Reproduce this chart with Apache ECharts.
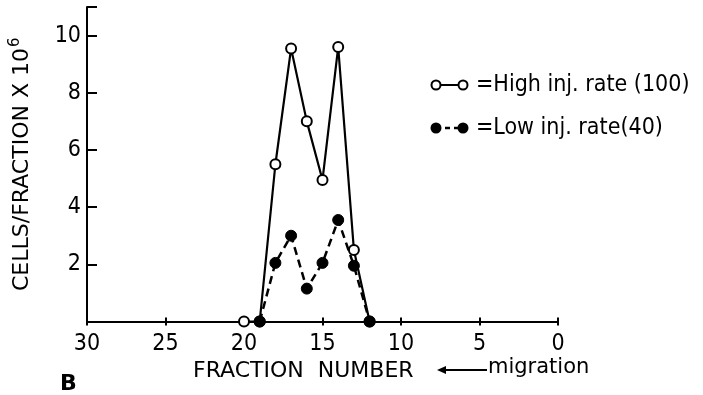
<!DOCTYPE html>
<html><head><meta charset="utf-8">
<script src="https://cdn.jsdelivr.net/npm/echarts@6/dist/echarts.min.js"></script>
<style>html,body{margin:0;padding:0;background:#fff}#c{width:703px;height:395px}</style>
</head><body><div id="c"></div>
<script>
var fractions = [20, 19, 18, 17, 16, 15, 14, 13, 12];
var highRate = [0, 0, 5.5, 9.55, 7.0, 4.95, 9.6, 2.5, 0];
var lowRate = [null, 0, 2.05, 3.0, 1.15, 2.05, 3.55, 1.95, 0];
var xTicks = [30, 25, 20, 15, 10, 5, 0];
var yTicks = [2, 4, 6, 8, 10];
var seriesNames = ['High inj. rate (100)', 'Low inj. rate(40)'];

var FONT = '"DejaVu Sans Condensed", sans-serif';
var FONTW = '"DejaVu Sans", sans-serif';
function pairs(vals) {
  var out = [];
  for (var i = 0; i < fractions.length; i++) if (vals[i] !== null) out.push([fractions[i], vals[i]]);
  return out;
}
var chart = echarts.init(document.getElementById('c'), null, {renderer: 'canvas'});
var baseX = {
  type: 'value', min: 0, max: 30, interval: 5, inverse: true, position: 'bottom',
  splitLine: {show: false}
};
chart.setOption({
  animation: false,
  backgroundColor: '#fff',
  grid: {left: 82, right: 145, top: 7, bottom: 73.5, containLabel: false},
  xAxis: [
    Object.assign({}, baseX, {
      axisLine: {onZero: false, lineStyle: {color: '#000', width: 2}},
      axisTick: {show: true, length: 4, lineStyle: {color: '#000', width: 2}},
      axisLabel: {color: '#000', fontSize: 23, fontFamily: FONT, margin: 11,
        formatter: function (v) { return xTicks.indexOf(v) >= 0 ? String(v) : ''; }}
    }),
    Object.assign({}, baseX, {
      axisLine: {show: false, onZero: false},
      axisTick: {show: true, inside: true, length: 4, lineStyle: {color: '#000', width: 2}},
      axisLabel: {show: false}
    })
  ],
  yAxis: {
    type: 'value', min: 0, max: 11, interval: 2, position: 'left',
    axisLine: {show: true, onZero: false, lineStyle: {color: '#000', width: 2}},
    axisTick: {show: true, inside: true, length: 10, lineStyle: {color: '#000', width: 2}},
    splitLine: {show: false},
    axisLabel: {color: '#000', fontSize: 23, fontFamily: FONT, margin: 6,
      formatter: function (v) { return yTicks.indexOf(v) >= 0 ? String(v) : ''; }},
    name: '{a|CELLS/FRACTION X 10}{s|6}',
    nameLocation: 'middle', nameRotate: 90, nameGap: 50,
    nameTextStyle: {
      rich: {
        a: {color: '#000', fontSize: 22, fontFamily: FONTW},
        s: {color: '#000', fontSize: 15, fontFamily: FONTW, verticalAlign: 'bottom', padding: [0, 0, 14, 1]}
      }
    }
  },
  series: [
    {
      name: seriesNames[0], type: 'line', data: pairs(highRate), xAxisIndex: 0,
      symbol: 'circle', symbolSize: 10, z: 3,
      lineStyle: {color: '#000', width: 2.2},
      itemStyle: {color: '#fff', borderColor: '#000', borderWidth: 2}
    },
    {
      name: seriesNames[1], type: 'line', data: pairs(lowRate), xAxisIndex: 0,
      symbol: 'circle', symbolSize: 11, z: 4,
      lineStyle: {color: '#000', width: 2.5, type: [8, 5]},
      itemStyle: {color: '#000', borderColor: '#000', borderWidth: 1}
    }
  ],
  graphic: [
    {type: 'line', shape: {x1: 436, y1: 85, x2: 463, y2: 85}, style: {stroke: '#000', lineWidth: 2}},
    {type: 'circle', shape: {cx: 436, cy: 85, r: 4.5}, style: {fill: '#fff', stroke: '#000', lineWidth: 2}},
    {type: 'circle', shape: {cx: 463, cy: 85, r: 4.5}, style: {fill: '#fff', stroke: '#000', lineWidth: 2}},
    {type: 'text', x: 476, y: 85, style: {text: '=' + seriesNames[0], font: '23px ' + FONT, fill: '#000', textVerticalAlign: 'middle'}},
    {type: 'line', shape: {x1: 436, y1: 128, x2: 463, y2: 128}, style: {stroke: '#000', lineWidth: 2.5, lineDash: [5, 4]}},
    {type: 'circle', shape: {cx: 436, cy: 128, r: 5.5}, style: {fill: '#000'}},
    {type: 'circle', shape: {cx: 463, cy: 128, r: 5.5}, style: {fill: '#000'}},
    {type: 'text', x: 476, y: 128, style: {text: '=' + seriesNames[1], font: '23px ' + FONT, fill: '#000', textVerticalAlign: 'middle'}},
    {type: 'text', x: 193, y: 371, style: {text: 'FRACTION  NUMBER', font: '22px ' + FONTW, fill: '#000', textVerticalAlign: 'middle'}},
    {type: 'line', shape: {x1: 440, y1: 370, x2: 487, y2: 370}, style: {stroke: '#000', lineWidth: 2}},
    {type: 'polygon', shape: {points: [[437, 370], [446, 366], [446, 374]]}, style: {fill: '#000'}},
    {type: 'text', x: 488, y: 368, style: {text: 'migration', font: '21px ' + FONTW, fill: '#000', textVerticalAlign: 'middle'}},
    {type: 'text', x: 60, y: 384, style: {text: 'B', font: 'bold 22px ' + FONTW, fill: '#000', textVerticalAlign: 'middle'}}
  ]
});
</script></body></html>
